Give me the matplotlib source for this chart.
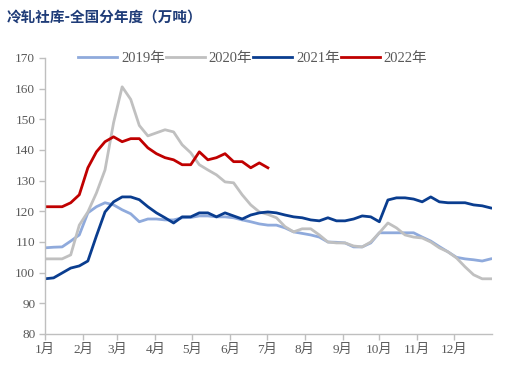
import matplotlib
matplotlib.use('Agg')
import matplotlib.pyplot as plt
import numpy as np

# weekly data, values (万吨)
y2019 = [108.1, 108.3, 108.4, 110.3, 112.3, 119.5, 121.5, 122.8, 122.1, 120.5,
         119.2, 116.6, 117.5, 117.5, 117.2, 117.2, 117.9, 118.0, 118.5, 118.5,
         118.2, 118.2, 117.9, 117.2, 116.6, 115.9, 115.5, 115.5, 114.6, 113.3,
         112.8, 112.3, 111.6, 110.0, 109.9, 109.7, 108.4, 108.4, 109.7, 113.0,
         113.0, 113.0, 113.0, 113.0, 111.6, 110.3, 108.5, 106.8, 105.0, 104.5,
         104.2, 103.8, 104.5]
y2020 = [104.5, 104.5, 104.5, 105.8, 115.5, 119.8, 126.0, 133.5, 148.9, 160.6,
         156.5, 148.0, 144.6, 145.6, 146.6, 145.9, 141.7, 139.1, 135.2, 133.5,
         131.9, 129.6, 129.3, 125.4, 122.1, 119.8, 119.0, 117.9, 115.0, 113.3,
         114.3, 114.3, 112.3, 110.0, 109.7, 109.7, 108.7, 108.4, 110.0, 113.0,
         116.2, 114.6, 112.3, 111.6, 111.3, 110.0, 108.1, 106.8, 104.8, 101.9,
         99.3, 98.0, 98.0]
y2021 = [98.0, 98.3, 99.9, 101.5, 102.2, 103.8, 112.0, 119.8, 123.1, 124.7,
         124.7, 123.8, 121.5, 119.5, 117.9, 116.2, 118.2, 118.2, 119.5, 119.5,
         118.2, 119.5, 118.5, 117.5, 118.8, 119.5, 119.8, 119.5, 118.8, 118.2,
         117.9, 117.2, 116.9, 117.9, 116.9, 116.9, 117.5, 118.5, 118.2, 116.6,
         123.7, 124.4, 124.4, 124.0, 123.1, 124.7, 123.1, 122.8, 122.8, 122.8,
         122.1, 121.8, 121.1]
y2022 = [121.5, 121.5, 121.5, 122.8, 125.4, 134.2, 139.4, 142.7, 144.3, 142.7,
         143.7, 143.7, 140.7, 138.8, 137.5, 136.8, 135.2, 135.2, 139.4, 136.8,
         137.5, 138.8, 136.2, 136.2, 134.2, 135.8, 134.2]

series_names = ['2019年', '2020年', '2021年', '2022年']
month_labels = ['1月', '2月', '3月', '4月', '5月', '6月', '7月', '8月', '9月', '10月', '11月', '12月']
month_start_days = [0, 31, 59, 90, 120, 151, 181, 212, 243, 273, 304, 334]

colors = ['#8FAADC', '#C0C0C0', '#0A3D8F', '#C00000']
tick_font = ['Liberation Serif', 'Noto Sans CJK SC']
tick_color = '#595959'

fig = plt.figure(figsize=(5.07, 3.71), dpi=100)
ax = fig.add_axes([45 / 507, 37 / 371, 447 / 507, 276 / 371])

for name, vals, c in zip(series_names, [y2019, y2020, y2021, y2022], colors):
    days = np.arange(len(vals)) * 7
    ax.plot(days, vals, color=c, lw=2.0, label=name, solid_joinstyle='round')

ax.set_xlim(0, 365)
ax.set_ylim(80, 170)
ax.set_yticks(np.arange(80, 171, 10))
ax.set_xticks(month_start_days)
ax.set_xticklabels(month_labels)

for s in ['top', 'right']:
    ax.spines[s].set_visible(False)
for s in ['left', 'bottom']:
    ax.spines[s].set_color('#BFBFBF')
    ax.spines[s].set_linewidth(1.0)
ax.tick_params(axis='both', direction='out', length=4, width=1.0, color='#BFBFBF',
               labelcolor=tick_color, pad=3)
for lab in ax.get_xticklabels() + ax.get_yticklabels():
    lab.set_family(tick_font)
    lab.set_fontsize(9.5)

leg = ax.legend(loc='center left', bbox_to_anchor=(0.074, 1.0), ncol=4, frameon=False,
                borderpad=0, borderaxespad=0,
                handlelength=2.7, handletextpad=0.25, columnspacing=0.05,
                prop={'family': tick_font, 'size': 10.5})
for t in leg.get_texts():
    t.set_color(tick_color)

fig.text(7 / 507, 1 - 17 / 371, '冷轧社库-全国分年度（万吨）', ha='left', va='center',
         fontsize=10.5, fontweight='bold', color='#1F3C78', family=['Noto Sans CJK SC'])

fig.savefig('out.png', dpi=100)
